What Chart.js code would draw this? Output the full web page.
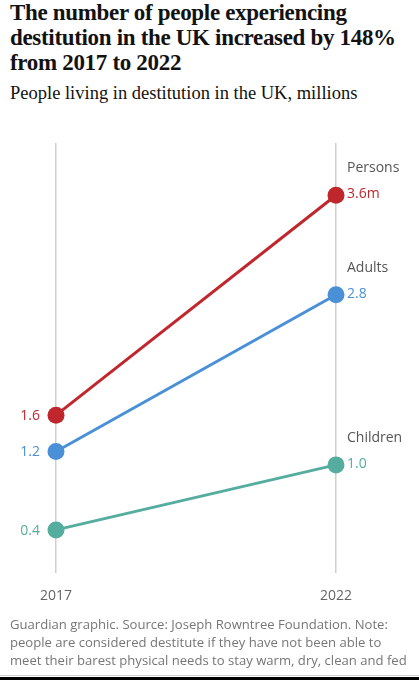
<!DOCTYPE html>
<html>
<head>
<meta charset="utf-8">
<script src="https://cdn.jsdelivr.net/npm/chart.js@4"></script>
<style>
  html, body { margin:0; padding:0; background:#fff; width:419px; height:680px; overflow:hidden; }
  #title { position:absolute; left:10px; top:0px; width:415px; white-space:nowrap; font-family:"Liberation Serif", serif; font-weight:bold; font-size:23px; line-height:25px; color:#121212; letter-spacing:-0.32px; }
  #sub { position:absolute; left:10px; top:82px; white-space:nowrap; font-family:"Liberation Serif", serif; font-size:18.5px; line-height:22px; color:#121212; }
  #wrap { position:absolute; left:0; top:120px; width:419px; height:498px; }
  #foot { position:absolute; left:10px; top:615px; width:409px; white-space:nowrap; font-family:"Open Sans", sans-serif; font-size:13.1px; line-height:18px; color:#767676; }
  #rule { position:absolute; left:0; top:675px; width:419px; height:1px; background:#d0d0d0; }
  #band { position:absolute; left:0; top:677px; width:419px; height:3px; background:#000; }
</style>
</head>
<body>
<div id="title">The number of people experiencing<br>destitution in the UK increased by 148%<br>from 2017 to 2022</div>
<div id="sub">People living in destitution in the UK, millions</div>
<div id="wrap"><canvas id="c"></canvas></div>
<div id="foot">Guardian graphic. Source: Joseph Rowntree Foundation. Note:<br>people are considered destitute if they have not been able to<br>meet their barest physical needs to stay warm, dry, clean and fed</div>
<div id="rule"></div>
<div id="band"></div>
<script>
const years = ['2017', '2022'];
const seriesNames = ['Persons', 'Adults', 'Children'];
const persons = [1.57, 3.87];
const adults = [1.19, 2.83];
const children = [0.37, 1.05];
const personsLabels = ['1.6', '3.6m'];
const adultsLabels = ['1.2', '2.8'];
const childrenLabels = ['0.4', '1.0'];
const colors = ['#c0272d', '#4a90d6', '#55ad9f'];

const valueLabels = [personsLabels, adultsLabels, childrenLabels];

const labelPlugin = {
  id: 'slopeLabels',
  afterDatasetsDraw(chart) {
    const ctx = chart.ctx;
    ctx.save();
    chart.data.datasets.forEach((ds, i) => {
      const meta = chart.getDatasetMeta(i);
      const p0 = meta.data[0], p1 = meta.data[1];
      ctx.textBaseline = 'middle';
      ctx.font = '14px "Open Sans", sans-serif';
      ctx.fillStyle = colors[i];
      ctx.textAlign = 'right';
      ctx.fillText(valueLabels[i][0], p0.x - 16, p0.y + 1);
      ctx.textAlign = 'left';
      ctx.fillText(valueLabels[i][1], p1.x + 11, p1.y - 1);
      ctx.fillStyle = '#555';
      ctx.fillText(seriesNames[i], p1.x + 11, p1.y - 27);
    });
    ctx.restore();
  }
};

new Chart(document.getElementById('c'), {
  type: 'line',
  data: {
    labels: years,
    datasets: [
      { label: seriesNames[0], data: persons, borderColor: colors[0], backgroundColor: colors[0] },
      { label: seriesNames[1], data: adults, borderColor: colors[1], backgroundColor: colors[1] },
      { label: seriesNames[2], data: children, borderColor: colors[2], backgroundColor: colors[2] }
    ].map(d => Object.assign(d, { borderWidth: 3, pointRadius: 8.5, pointHoverRadius: 8.5, pointBorderWidth: 0, clip: false, tension: 0 }))
  },
  options: {
    responsive: true,
    maintainAspectRatio: false,
    animation: false,
    layout: { padding: { left: 56, right: 83, top: 23, bottom: 0 } },
    plugins: { legend: { display: false }, tooltip: { enabled: false } },
    scales: {
      x: {
        offset: false,
        grid: { color: '#cfcfcf', lineWidth: 1.5, drawTicks: false },
        border: { display: false },
        ticks: { color: '#666', font: { family: '"Open Sans", sans-serif', size: 14 }, padding: 14, maxRotation: 0, autoSkip: false }
      },
      y: {
        display: false,
        min: -0.083,
        max: 4.417
      }
    }
  },
  plugins: [labelPlugin]
});
</script>
</body>
</html>
